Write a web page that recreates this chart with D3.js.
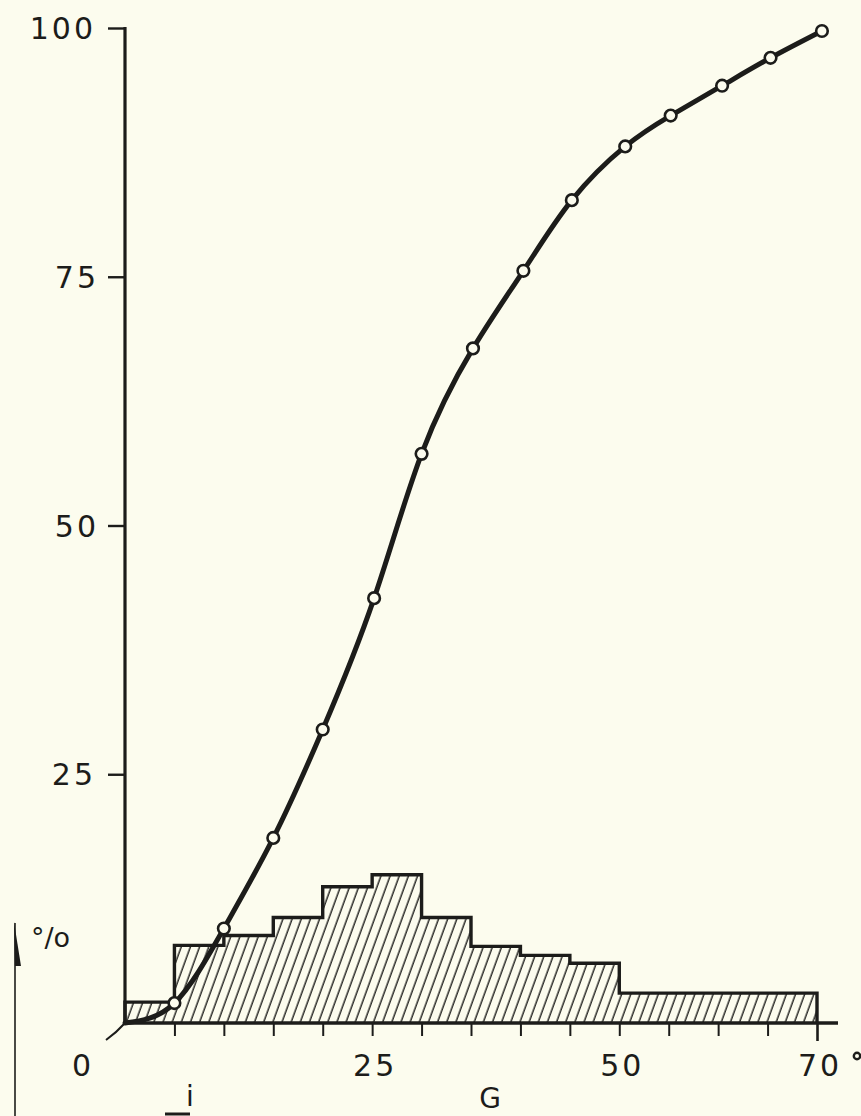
<script src="https://d3js.org/d3.v7.min.js"></script>
<style>
  body { margin: 0; background: #fcfcee; }
  svg { display: block; }
</style>
<body>
<svg id="frame" width="861" height="1116"></svg>
<script>

// histogram bins (degrees) and their share in %
var binEdges = [0, 5, 10, 15, 20, 25, 30, 35, 40, 45, 50, 70]
var binHeights = [2.1, 7.8, 8.8, 10.6, 13.7, 14.9, 10.6, 7.7, 6.8, 6.0, 3.0]

// cumulative curve
var cumX = [0, 5, 10, 15, 20, 25.2, 30, 35.2, 40.3, 45.2, 50.6, 55.2, 60.4, 65.3, 70.5]
var cumY = [0, 2.0, 9.5, 18.6, 29.5, 42.7, 57.2, 67.8, 75.6, 82.7, 88.1, 91.2, 94.2, 97.0, 99.7]

var yTicks = [25, 50, 75, 100]
var xTicks = d3.range(5, 71, 5)
var xLabels = [[0, "0"], [25, "25"], [50, "50"], [70, "70"]]

var ink = "#1c1c1a"
var paper = "#fcfcee"
var font = "'DejaVu Sans', sans-serif"

var x = d3.scaleLinear().domain([0, 70]).range([125, 817])
var y = d3.scaleLinear().domain([0, 100]).range([1023, 28])

var svg = d3.select("#frame")

svg.append("rect")
  .attr("width", 861).attr("height", 1116)
  .attr("fill", paper)

// hatch pattern
var defs = svg.append("defs")
defs.append("pattern")
  .attr("id", "hatch")
  .attr("patternUnits", "userSpaceOnUse")
  .attr("width", 8.6)
  .attr("height", 10)
  .attr("patternTransform", "rotate(20)")
  .append("line")
    .attr("x1", 4).attr("y1", -1)
    .attr("x2", 4).attr("y2", 11)
    .attr("stroke", ink)
    .attr("stroke-width", 1.4)

// histogram as one stepped outline
var steps = []
binHeights.forEach(function(h, i) {
  steps.push([binEdges[i], h])
  steps.push([binEdges[i + 1], h])
})

var histArea = d3.area()
  .x(d => x(d[0]))
  .y0(y(0))
  .y1(d => y(d[1]))

svg.append("path")
  .datum(steps)
  .attr("d", histArea)
  .attr("fill", "url(#hatch)")

var histLine = d3.line()
  .x(d => x(d[0]))
  .y(d => y(d[1]))

svg.append("path")
  .datum([[0, 0]].concat(steps).concat([[70, 0]]))
  .attr("d", histLine)
  .attr("fill", "none")
  .attr("stroke", ink)
  .attr("stroke-width", 3.4)
  .attr("stroke-linejoin", "miter")

// x axis
var xAxis = svg.append("g")
  .attr("transform", `translate(0, ${y(0)})`)
  .call(d3.axisBottom(x).tickValues(xTicks).tickSize(13).tickFormat(""))

xAxis.select(".domain").remove()
xAxis.selectAll(".tick line")
  .attr("stroke", ink)
  .attr("stroke-width", 2)
xAxis.selectAll(".tick").filter(d => d == 70).select("line")
  .attr("y2", 18)
  .attr("stroke-width", 2.6)

svg.append("line")
  .attr("x1", x(0)).attr("x2", x(70) + 21)
  .attr("y1", y(0)).attr("y2", y(0))
  .attr("stroke", ink)
  .attr("stroke-width", 3.4)

// little slanted stroke below the origin
svg.append("path")
  .attr("d", `M${x(0)},${y(0)} Q${x(0) - 8},${y(0) + 9} ${x(0) - 19},${y(0) + 17}`)
  .attr("fill", "none")
  .attr("stroke", ink)
  .attr("stroke-width", 2)

svg.selectAll(".xlab")
  .data(xLabels)
  .enter().append("text")
  .attr("class", "xlab")
  .attr("x", d => d[0] == 0 ? x(d[0]) - 42 : x(d[0]) + 3)
  .attr("y", 1076)
  .attr("text-anchor", "middle")
  .style("font-family", font)
  .style("font-size", "30px")
  .style("letter-spacing", "3px")
  .attr("fill", ink)
  .text(d => d[1])

svg.append("circle")
  .attr("cx", 857)
  .attr("cy", 1056)
  .attr("r", 3.2)
  .attr("fill", "none")
  .attr("stroke", ink)
  .attr("stroke-width", 2.4)

// y axis
var yAxis = svg.append("g")
  .attr("transform", `translate(${x(0)}, 0)`)
  .call(d3.axisLeft(y).tickValues(yTicks).tickSize(17).tickFormat(""))

yAxis.select(".domain").remove()
yAxis.selectAll(".tick line")
  .attr("stroke", ink)
  .attr("stroke-width", 2.4)

svg.append("line")
  .attr("x1", x(0)).attr("x2", x(0))
  .attr("y1", y(100) - 1).attr("y2", y(0) + 1)
  .attr("stroke", ink)
  .attr("stroke-width", 3.2)

svg.selectAll(".ylab")
  .data(yTicks)
  .enter().append("text")
  .attr("class", "ylab")
  .attr("x", d => d == 100 || d == 25 ? 96 : 99)
  .attr("y", d => y(d) + 11)
  .attr("text-anchor", "end")
  .style("font-family", font)
  .style("font-size", "30px")
  .style("letter-spacing", "3px")
  .attr("fill", ink)
  .text(d => d)

// cumulative curve
var pts = cumX.map((v, i) => [v, cumY[i]])

svg.append("path")
  .datum(pts)
  .attr("d", d3.line()
    .x(d => x(d[0]))
    .y(d => y(d[1]))
    .curve(d3.curveNatural))
  .attr("fill", "none")
  .attr("stroke", ink)
  .attr("stroke-width", 5)
  .attr("stroke-linecap", "round")

svg.selectAll(".pt")
  .data(pts.slice(1))
  .enter().append("circle")
  .attr("class", "pt")
  .attr("cx", d => x(d[0]))
  .attr("cy", d => y(d[1]))
  .attr("r", 5.8)
  .attr("fill", paper)
  .attr("stroke", ink)
  .attr("stroke-width", 2.6)

// unit label and arrow on the left
svg.append("text")
  .attr("x", 31)
  .attr("y", 947)
  .style("font-family", font)
  .style("font-size", "27px")
  .attr("fill", ink)
  .text("°/o")

svg.append("line")
  .attr("x1", 15).attr("x2", 15)
  .attr("y1", 923).attr("y2", 1116)
  .attr("stroke", ink)
  .attr("stroke-width", 1.6)

svg.append("path")
  .attr("d", "M14,922 L21,966 L15,966 Z")
  .attr("fill", ink)

// bits of text under the axis, near the page edge
svg.append("text")
  .attr("x", 190)
  .attr("y", 1106)
  .attr("text-anchor", "middle")
  .style("font-family", font)
  .style("font-size", "28px")
  .attr("fill", ink)
  .text("i")

svg.append("line")
  .attr("x1", 165).attr("x2", 190)
  .attr("y1", 1114).attr("y2", 1114)
  .attr("stroke", ink)
  .attr("stroke-width", 3)

svg.append("text")
  .attr("x", 490)
  .attr("y", 1108)
  .attr("text-anchor", "middle")
  .style("font-family", font)
  .style("font-size", "28px")
  .attr("fill", ink)
  .text("G")

</script>
</body>
